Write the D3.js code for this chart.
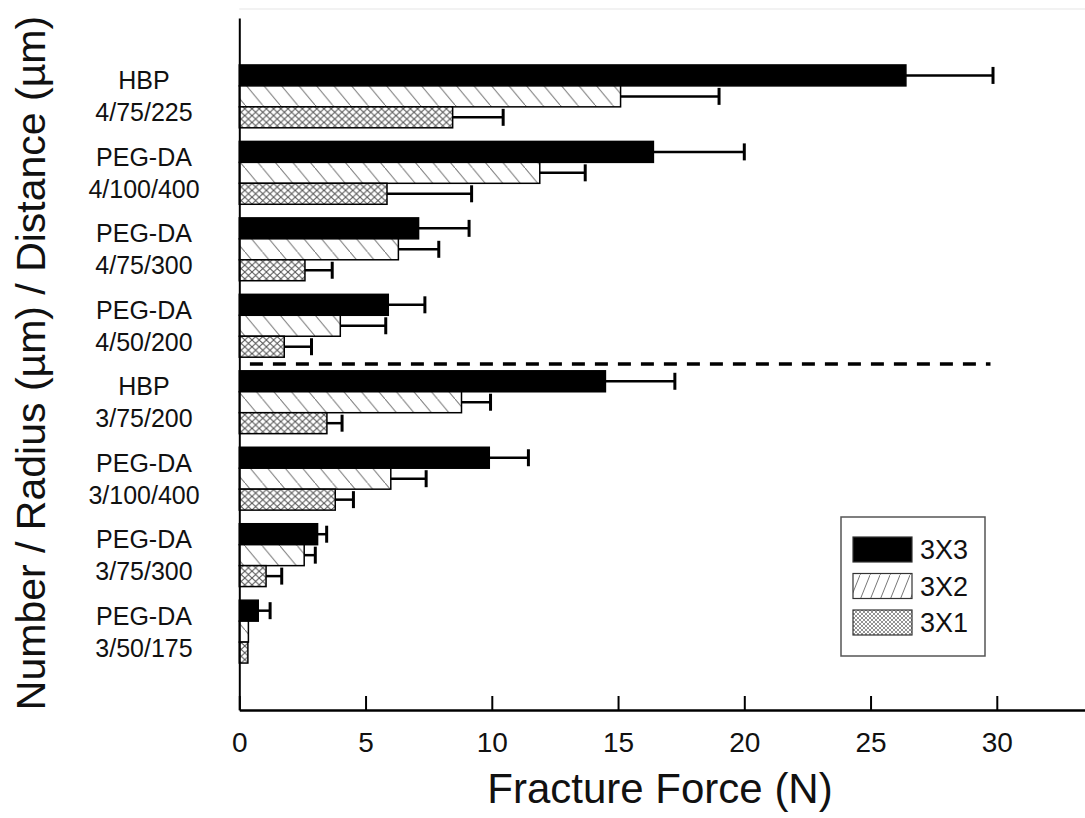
<!DOCTYPE html>
<html>
<head>
<meta charset="utf-8">
<script src="https://cdn.jsdelivr.net/npm/d3@7"></script>
<style>
    body { margin: 0; background: #fff; }
    text { font-family: "Liberation Sans", Arial, sans-serif; fill: #111; }
</style>
</head>
<body>
<script>
    //categories, top to bottom (polymer + number/radius/distance)
    var categories = ["HBP 4/75/225", "PEG-DA 4/100/400", "PEG-DA 4/75/300", "PEG-DA 4/50/200",
                      "HBP 3/75/200", "PEG-DA 3/100/400", "PEG-DA 3/75/300", "PEG-DA 3/50/175"];
    var seriesNames = ["3X3", "3X2", "3X1"];

    //fracture force (N) and error for each series
    var vals3x3 = [26.4, 16.4, 7.1, 5.9, 14.5, 9.9, 3.1, 0.75];
    var err3x3  = [3.45, 3.6, 2.0, 1.45, 2.75, 1.55, 0.36, 0.47];
    var vals3x2 = [15.1, 11.9, 6.3, 4.0, 8.8, 6.0, 2.57, 0.36];
    var err3x2  = [3.9, 1.8, 1.6, 1.8, 1.15, 1.4, 0.44, 0];
    var vals3x1 = [8.45, 5.85, 2.6, 1.78, 3.47, 3.8, 1.06, 0.34];
    var err3x1  = [2.0, 3.35, 1.08, 1.08, 0.6, 0.72, 0.62, 0];

    var xTicks = [0, 5, 10, 15, 20, 25, 30];

    window.onload = setChart();

    function setChart(){
        var width = 1085,
            height = 818;

        var svg = d3.select("body")
            .append("svg")
            .attr("width", width)
            .attr("height", height);

        //patterns for the bar fills
        var defs = svg.append("defs");

        var hatch = defs.append("pattern")
            .attr("id", "hatch")
            .attr("patternUnits", "userSpaceOnUse")
            .attr("width", 17.5)
            .attr("height", 21);
        hatch.append("rect").attr("width", 17.5).attr("height", 21).attr("fill", "#fff");
        hatch.append("line").attr("x1", 0).attr("y1", 0).attr("x2", 17.5).attr("y2", 21)
            .attr("stroke", "#777").attr("stroke-width", 1);

        var cross = defs.append("pattern")
            .attr("id", "cross")
            .attr("patternUnits", "userSpaceOnUse")
            .attr("width", 7.2)
            .attr("height", 6.8);
        cross.append("rect").attr("width", 7.2).attr("height", 6.8).attr("fill", "#fff");
        cross.append("path").attr("d", "M0,0L7.2,6.8M7.2,0L0,6.8")
            .attr("stroke", "#555").attr("stroke-width", 1);

        //legend versions (hatch leans the other way, finer dots)
        var hatchLeg = defs.append("pattern")
            .attr("id", "hatchLeg")
            .attr("patternUnits", "userSpaceOnUse")
            .attr("width", 10)
            .attr("height", 25);
        hatchLeg.append("rect").attr("width", 10).attr("height", 25).attr("fill", "#fff");
        hatchLeg.append("line").attr("x1", 0).attr("y1", 25).attr("x2", 10).attr("y2", 0)
            .attr("stroke", "#777").attr("stroke-width", 1);

        var dotsLeg = defs.append("pattern")
            .attr("id", "dotsLeg")
            .attr("patternUnits", "userSpaceOnUse")
            .attr("width", 4)
            .attr("height", 4);
        dotsLeg.append("rect").attr("width", 4).attr("height", 4).attr("fill", "#fff");
        dotsLeg.append("path").attr("d", "M0,0L4,4M4,0L0,4")
            .attr("stroke", "#888").attr("stroke-width", 0.9);

        var fills = { "3X3": "#000", "3X2": "url(#hatch)", "3X1": "url(#cross)" };
        var legFills = { "3X3": "#000", "3X2": "url(#hatchLeg)", "3X1": "url(#dotsLeg)" };

        //scales
        var x = d3.scaleLinear()
            .domain([0, 34])
            .range([239.3, 239.3 + 25.25 * 34]);

        var y = d3.scaleBand()
            .domain(categories)
            .range([18, 710])
            .paddingInner(0.178)
            .paddingOuter(0.614);

        var ySub = d3.scaleBand()
            .domain(seriesNames)
            .range([0, y.bandwidth()]);

        //table built from the arrays
        var table = seriesNames.map(function(s, i){
            var v = [vals3x3, vals3x2, vals3x1][i],
                e = [err3x3, err3x2, err3x1][i];
            return categories.map(function(c, j){
                return { cat: c, series: s, value: v[j], err: e[j] };
            });
        }).flat();

        //faint top frame
        svg.append("line")
            .attr("x1", x(0)).attr("x2", width)
            .attr("y1", 9).attr("y2", 9)
            .attr("stroke", "#eee").attr("stroke-width", 1.5);

        //bars
        svg.append("g")
            .selectAll("rect")
            .data(table)
            .join("rect")
            .attr("x", x(0))
            .attr("y", function(d){ return y(d.cat) + ySub(d.series); })
            .attr("width", function(d){ return x(d.value) - x(0); })
            .attr("height", ySub.bandwidth())
            .attr("fill", function(d){ return fills[d.series]; })
            .attr("stroke", "#000")
            .attr("stroke-width", 1.5);

        //error bars
        var errs = svg.append("g")
            .selectAll("g")
            .data(table.filter(function(d){ return d.err > 0; }))
            .join("g")
            .attr("stroke", "#000");
        errs.append("line")
            .attr("x1", function(d){ return x(d.value); })
            .attr("x2", function(d){ return x(d.value + d.err); })
            .attr("y1", function(d){ return y(d.cat) + ySub(d.series) + ySub.bandwidth() / 2; })
            .attr("y2", function(d){ return y(d.cat) + ySub(d.series) + ySub.bandwidth() / 2; })
            .attr("stroke-width", 2.5);
        errs.append("line")
            .attr("x1", function(d){ return x(d.value + d.err); })
            .attr("x2", function(d){ return x(d.value + d.err); })
            .attr("y1", function(d){ return y(d.cat) + ySub(d.series) + ySub.bandwidth() / 2 - 8.5; })
            .attr("y2", function(d){ return y(d.cat) + ySub(d.series) + ySub.bandwidth() / 2 + 8.5; })
            .attr("stroke-width", 3);

        //dashed separator between the 4-row and 3-row designs
        var sepY = (y(categories[3]) + y.bandwidth() + y(categories[4])) / 2;
        svg.append("line")
            .attr("x1", x(0.42)).attr("x2", x(29.75))
            .attr("y1", sepY).attr("y2", sepY)
            .attr("stroke", "#000")
            .attr("stroke-width", 3.5)
            .attr("stroke-dasharray", "13,10");

        //x axis, ticks pointing inward
        var xAxis = svg.append("g")
            .attr("transform", "translate(0,710)")
            .call(d3.axisBottom(x)
                .tickValues(xTicks)
                .tickSizeInner(-14)
                .tickSizeOuter(0)
                .tickPadding(22));
        xAxis.select(".domain").attr("stroke", "#000").attr("stroke-width", 2.5);
        xAxis.selectAll(".tick line").attr("stroke", "#000").attr("stroke-width", 2);
        xAxis.selectAll(".tick text")
            .attr("font-size", 28)
            .attr("font-family", "Liberation Sans, Arial, sans-serif")
            .attr("fill", "#111");

        //y axis line only
        var yAxis = svg.append("g")
            .attr("transform", "translate(" + x(0) + ",0)")
            .call(d3.axisLeft(y).tickSize(0).tickFormat(""));
        yAxis.select(".domain").attr("stroke", "#000").attr("stroke-width", 2);

        //two-line category labels
        var labels = svg.append("g")
            .selectAll("text")
            .data(categories)
            .join("text")
            .attr("text-anchor", "middle")
            .attr("font-size", 25);
        labels.append("tspan")
            .attr("x", 144)
            .attr("y", function(d){ return y(d) + y.bandwidth() / 2 - 7; })
            .text(function(d){ return d.split(" ")[0]; });
        labels.append("tspan")
            .attr("x", 144)
            .attr("y", function(d){ return y(d) + y.bandwidth() / 2 + 25; })
            .text(function(d){ return d.split(" ")[1]; });

        //axis titles
        svg.append("text")
            .attr("x", 660)
            .attr("y", 803)
            .attr("text-anchor", "middle")
            .attr("font-size", 42)
            .text("Fracture Force (N)");

        svg.append("text")
            .attr("transform", "translate(45,363) rotate(-90)")
            .attr("text-anchor", "middle")
            .attr("font-size", 41)
            .text("Number / Radius (µm) / Distance (µm)");

        //legend
        var legend = svg.append("g");
        legend.append("rect")
            .attr("x", 841).attr("y", 517)
            .attr("width", 144).attr("height", 139)
            .attr("fill", "#fff")
            .attr("stroke", "#555")
            .attr("stroke-width", 1.5);
        var legY = d3.scalePoint()
            .domain(seriesNames)
            .range([549.5, 622.5]);
        legend.selectAll("rect.sw")
            .data(seriesNames)
            .join("rect")
            .attr("class", "sw")
            .attr("x", 853).attr("width", 59)
            .attr("y", function(d){ return legY(d) - 12.5; })
            .attr("height", 25)
            .attr("fill", function(d){ return legFills[d]; })
            .attr("stroke", "#333")
            .attr("stroke-width", 1.2);
        legend.selectAll("text")
            .data(seriesNames)
            .join("text")
            .attr("x", 920)
            .attr("y", function(d){ return legY(d) + 9.5; })
            .attr("font-size", 27)
            .text(function(d){ return d; });
    }; //end of setChart()
</script>
</body>
</html>
